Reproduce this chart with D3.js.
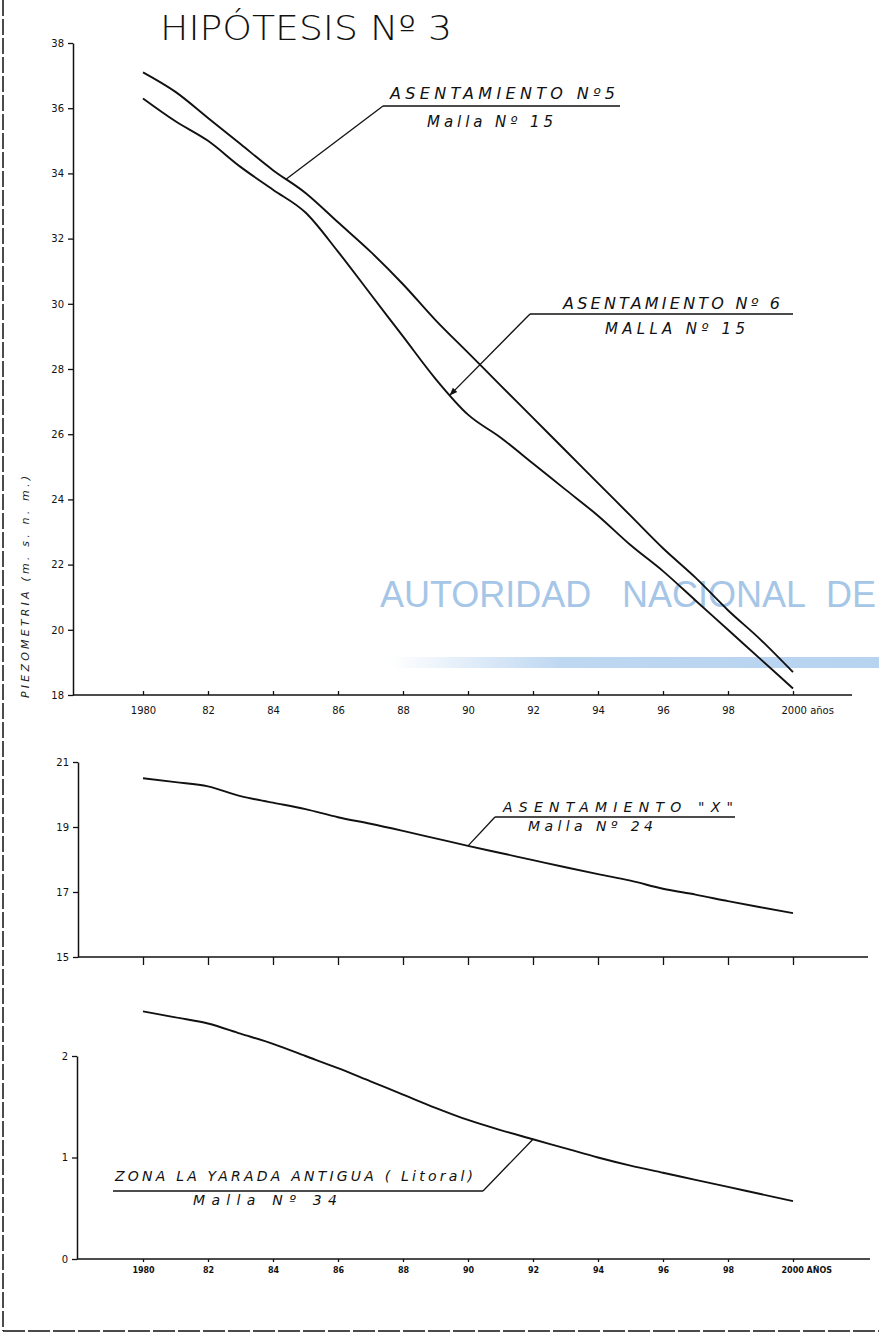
<!DOCTYPE html>
<html>
<head>
<meta charset="utf-8">
<script src="https://cdn.jsdelivr.net/npm/d3@7"></script>
<style>
  body { margin: 0; background: #fff; }
  svg { display: block; }
</style>
</head>
<body>
<div id="chart"></div>
<script>
// years on the x axis (all three panels share them)
const years = d3.range(1980, 2001);

// panel 1 : piezometria (m.s.n.m.)
const asent5 = [37.1, 36.5, 35.7, 34.9, 34.1, 33.4, 32.5, 31.6, 30.6, 29.5, 28.5,
                27.5, 26.5, 25.5, 24.5, 23.5, 22.5, 21.6, 20.6, 19.7, 18.7];
const asent6 = [36.3, 35.6, 35.0, 34.2, 33.5, 32.8, 31.6, 30.3, 29.0, 27.7, 26.6,
                25.9, 25.1, 24.3, 23.5, 22.6, 21.8, 20.9, 20.0, 19.1, 18.2];
// panel 2
const asentX = [20.5, 20.38, 20.25, 19.95, 19.75, 19.55, 19.3, 19.1, 18.88, 18.65, 18.42,
                18.2, 17.98, 17.76, 17.55, 17.35, 17.1, 16.92, 16.72, 16.53, 16.35];
// panel 3
const yarada = [2.44, 2.38, 2.32, 2.22, 2.12, 2.0, 1.88, 1.75, 1.62, 1.49, 1.37,
                1.27, 1.18, 1.09, 1.0, 0.92, 0.85, 0.78, 0.71, 0.64, 0.57];

const tickYears = d3.range(1980, 2001, 2);
const topXLabels = ["1980", "82", "84", "86", "88", "90", "92", "94", "96", "98", "2000 años"];
const botXLabels = ["1980", "82", "84", "86", "88", "90", "92", "94", "96", "98", "2000 AÑOS"];
const topYTicks = [18, 20, 22, 24, 26, 28, 30, 32, 34, 36, 38];
const midYTicks = [15, 17, 19, 21];
const botYTicks = [0, 1, 2];

let w = 879;
let h = 1336;

let svg = d3.select("#chart")
  .append("svg")
  .attr("width", w)
  .attr("height", h)
  .style("background-color", "#fff");

let x = d3.scaleLinear().domain([1980, 2000]).range([143, 793]);
let yTop = d3.scaleLinear().domain([18, 38]).range([695, 43]);
let yMid = d3.scaleLinear().domain([15, 21]).range([957, 762]);
let yBot = d3.scaleLinear().domain([0, 2]).range([1259, 1056]);

const handFont = "'DejaVu Sans', sans-serif";

// ---- watermark of the scan
let defs = svg.append("defs");
let grad = defs.append("linearGradient").attr("id", "band");
grad.append("stop").attr("offset", "0%").attr("stop-color", "#b7d3f0").attr("stop-opacity", 0);
grad.append("stop").attr("offset", "35%").attr("stop-color", "#b7d3f0").attr("stop-opacity", 0.9);
grad.append("stop").attr("offset", "100%").attr("stop-color", "#b7d3f0").attr("stop-opacity", 1);

svg.append("rect")
  .attr("x", 390).attr("y", 657).attr("width", w - 390).attr("height", 11)
  .attr("fill", "url(#band)");

let wm = svg.append("g")
  .attr("font-family", "'Liberation Sans', Arial, sans-serif")
  .attr("font-size", 36)
  .attr("fill", "#a6c6e8");
wm.append("text").attr("x", 380).attr("y", 607).text("AUTORIDAD");
wm.append("text").attr("x", 622).attr("y", 607).text("NACIONAL");
wm.append("text").attr("x", 826).attr("y", 607).text("DE");

// ---- frame
svg.append("line")
  .attr("x1", 3).attr("x2", 3).attr("y1", 0).attr("y2", 1331)
  .attr("stroke", "#111").attr("stroke-width", 1.5)
  .attr("stroke-dasharray", "16 3");
svg.append("line")
  .attr("x1", 3).attr("x2", w).attr("y1", 1331).attr("y2", 1331)
  .attr("stroke", "#111").attr("stroke-width", 1.5)
  .attr("stroke-dasharray", "22 3");

// ---- title
svg.append("text")
  .attr("x", 160).attr("y", 40)
  .attr("font-family", "'DejaVu Sans', sans-serif")
  .attr("font-weight", 200)
  .attr("font-size", 34)
  .attr("textLength", 292)
  .attr("lengthAdjust", "spacingAndGlyphs")
  .attr("fill", "#111")
  .text("HIPÓTESIS Nº 3");

// ---- axes
function yAxis(scale, ticks, ax) {
  let g = svg.append("g")
    .attr("transform", `translate(${ax},0)`)
    .call(d3.axisLeft(scale).tickValues(ticks).tickSize(5).tickSizeOuter(0).tickPadding(4).tickFormat(d3.format("d")));
  g.select(".domain").attr("stroke", "#111").attr("stroke-width", 1.5);
  g.selectAll(".tick line").attr("stroke", "#111").attr("stroke-width", 1.3);
  g.selectAll("text").attr("font-family", handFont).attr("font-size", 10).attr("fill", "#111");
  return g;
}

function xAxis(yPos, ax, xEnd, size, pad, labels, fs) {
  svg.append("line")
    .attr("x1", ax).attr("x2", xEnd).attr("y1", yPos).attr("y2", yPos)
    .attr("stroke", "#111").attr("stroke-width", 1.6);
  let g = svg.append("g")
    .attr("transform", `translate(0,${yPos})`)
    .call(d3.axisBottom(x).tickValues(tickYears).tickSize(size).tickSizeOuter(0).tickPadding(pad)
      .tickFormat((d, i) => labels ? labels[i] : ""));
  g.select(".domain").remove();
  g.selectAll(".tick line").attr("stroke", "#111").attr("stroke-width", 1.3);
  g.selectAll("text").attr("font-family", handFont).attr("font-size", fs).attr("fill", "#111");
  // last label "2000 años" starts at the 2000 tick
  g.selectAll(".tick text").filter(d => d === 2000)
    .attr("text-anchor", "start").attr("x", -12);
  return g;
}

yAxis(yTop, topYTicks, 73);
xAxis(yTop(18), 73, 852, -4, 12, topXLabels, 10);

yAxis(yMid, midYTicks, 78);
xAxis(yMid(15), 78, 868, 8, 3, null, 10);

yAxis(yBot, botYTicks, 77);
xAxis(yBot(0), 77, 870, 3, 5, botXLabels, 8)
  .selectAll("text").attr("font-weight", "bold");

// y title of the first panel
svg.append("text")
  .attr("transform", "translate(29,698) rotate(-90)")
  .attr("font-family", handFont)
  .attr("font-style", "italic")
  .attr("font-size", 11)
  .attr("textLength", 222)
  .attr("lengthAdjust", "spacing")
  .attr("fill", "#222")
  .text("PIEZOMETRIA  (m. s. n. m.)");

// ---- series lines
function drawSeries(values, yScale) {
  let line = d3.line()
    .x((d, i) => x(years[i]))
    .y(d => yScale(d))
    .curve(d3.curveMonotoneX);
  svg.append("path")
    .datum(values)
    .attr("d", line)
    .attr("fill", "none")
    .attr("stroke", "#111")
    .attr("stroke-width", 1.9)
    .attr("stroke-linejoin", "round");
}

drawSeries(asent5, yTop);
drawSeries(asent6, yTop);
drawSeries(asentX, yMid);
drawSeries(yarada, yBot);

// point on a series for a given (fractional) year
function pointOn(values, yScale, yr) {
  let v = d3.scaleLinear().domain(years).range(values)(yr);
  return [x(yr), yScale(v)];
}

// ---- labels with leader lines
defs.append("marker")
  .attr("id", "arrow")
  .attr("viewBox", "0 0 10 10")
  .attr("refX", 9).attr("refY", 5)
  .attr("markerWidth", 6).attr("markerHeight", 6)
  .attr("orient", "auto")
  .append("path").attr("d", "M0,1 L10,5 L0,9 z").attr("fill", "#111");

function label(lines, underline, target, arrow) {
  let g = svg.append("g");
  lines.forEach(l => {
    g.append("text")
      .attr("x", l.x).attr("y", l.y)
      .attr("font-family", handFont)
      .attr("font-style", "italic")
      .attr("font-size", l.size || 13)
      .attr("textLength", l.len)
      .attr("lengthAdjust", "spacing")
      .attr("fill", "#111")
      .text(l.text);
  });
  g.append("line")
    .attr("x1", underline[0]).attr("x2", underline[1])
    .attr("y1", underline[2]).attr("y2", underline[2])
    .attr("stroke", "#111").attr("stroke-width", 1.3);
  let start = underline[3] === "right" ? underline[1] : underline[0];
  g.append("line")
    .attr("x1", start).attr("y1", underline[2])
    .attr("x2", target[0]).attr("y2", target[1])
    .attr("stroke", "#111").attr("stroke-width", 1.3)
    .attr("marker-end", arrow ? "url(#arrow)" : null);
}

label([
  { text: "ASENTAMIENTO Nº5", x: 390, y: 99, len: 225, size: 16 },
  { text: "Malla Nº 15", x: 427, y: 127, len: 126, size: 15 }
], [383, 620, 106], pointOn(asent5, yTop, 1984.4), false);

label([
  { text: "ASENTAMIENTO Nº 6", x: 563, y: 309, len: 217, size: 16 },
  { text: "MALLA Nº 15", x: 605, y: 334, len: 140, size: 15 }
], [530, 793, 314], pointOn(asent6, yTop, 1989.45), true);

label([
  { text: "ASENTAMIENTO  \"X\"", x: 503, y: 812, len: 230, size: 14 },
  { text: "Malla Nº 24", x: 528, y: 831, len: 125, size: 14 }
], [495, 735, 817], pointOn(asentX, yMid, 1990.0), false);

label([
  { text: "ZONA LA YARADA ANTIGUA ( Litoral)", x: 115, y: 1181, len: 358, size: 14 },
  { text: "Malla  Nº 34", x: 193, y: 1205, len: 144, size: 14 }
], [113, 483, 1191, "right"], pointOn(yarada, yBot, 1992.0), false);
</script>
</body>
</html>
